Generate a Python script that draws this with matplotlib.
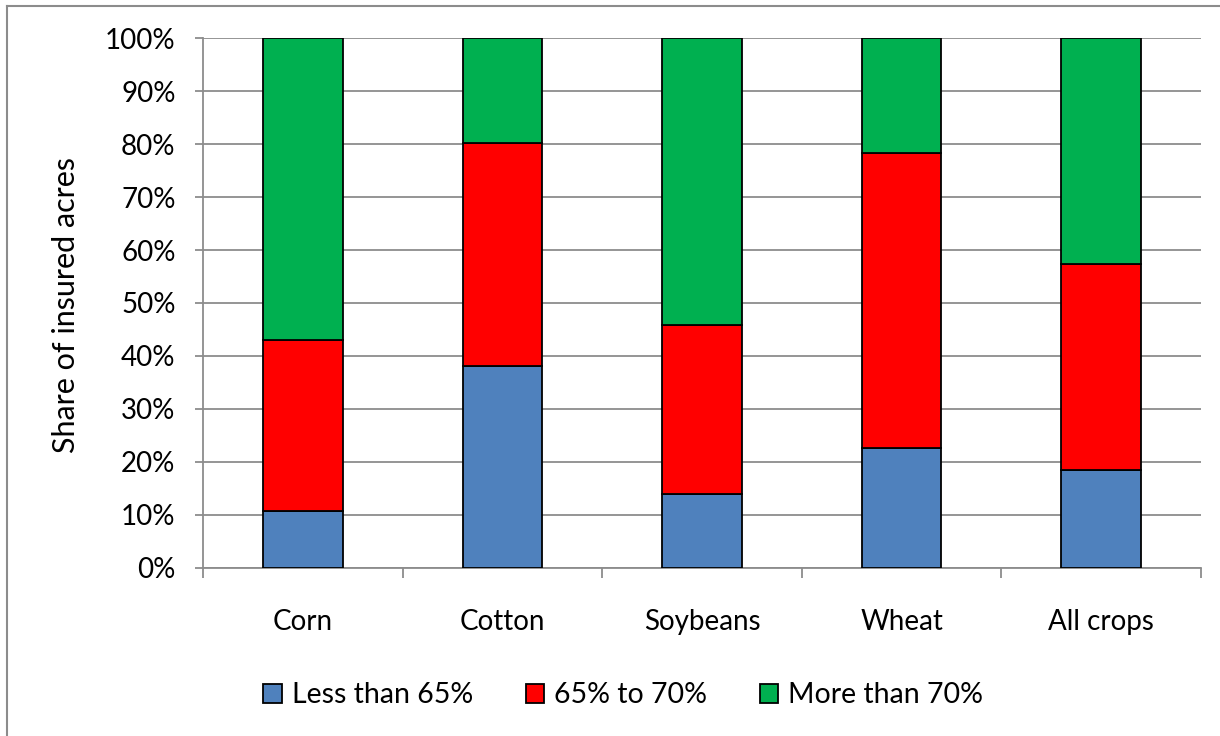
import matplotlib.pyplot as plt
from matplotlib.lines import Line2D
from matplotlib.ticker import FixedLocator, PercentFormatter

crops = ['Corn', 'Cotton', 'Soybeans', 'Wheat', 'All crops']
less_65 = [10.7, 38.1, 13.9, 22.7, 18.5]
from_65_to_70 = [32.4, 42.1, 32.0, 55.7, 38.9]
more_70 = [56.9, 19.8, 54.1, 21.6, 42.6]

series_names = ['Less than 65%', '65% to 70%', 'More than 70%']
colors = ['#4F81BD', '#FF0000', '#00B050']
grid_gray = '#8C8C8C'

plt.rcParams['font.family'] = ['Lato', 'DejaVu Sans']

fig = plt.figure(figsize=(12.2, 7.36), dpi=100)
ax = fig.add_axes([0.1667, 0.2287, 0.8175, 0.7193])

x = list(range(len(crops)))
bottom = [0.0] * len(crops)
for values, name, color in zip([less_65, from_65_to_70, more_70], series_names, colors):
    ax.bar(x, values, width=0.4, bottom=bottom, color=color, edgecolor='black',
           linewidth=1.3, label=name, zorder=3)
    bottom = [b + v for b, v in zip(bottom, values)]

ax.set_xlim(-0.5, len(crops) - 0.5)
ax.set_ylim(0, 100)
ax.set_yticks(range(0, 101, 10))
ax.yaxis.set_major_formatter(PercentFormatter(decimals=0))
ax.set_xticks(x)
ax.set_xticklabels(crops)
ax.xaxis.set_minor_locator(FixedLocator([i - 0.5 for i in range(len(crops) + 1)]))

ax.grid(axis='y', color=grid_gray, linewidth=1.3, zorder=0)
ax.tick_params(axis='x', which='major', length=0, pad=30, labelsize=20)
ax.tick_params(axis='x', which='minor', length=7, width=1.3, color=grid_gray)
ax.tick_params(axis='y', length=6, width=1.3, color=grid_gray, pad=14, labelsize=20)

for side in ['top', 'right']:
    ax.spines[side].set_visible(False)
for side in ['left', 'bottom']:
    ax.spines[side].set_color(grid_gray)
    ax.spines[side].set_linewidth(1.3)

fig.text(66 / 1220, 0.585, 'Share of insured acres', rotation=90,
         ha='center', va='center', fontsize=22)

fig.legend(loc='center', bbox_to_anchor=(0.511, 0.0557), ncol=3, frameon=False,
           fontsize=20.5, handlelength=0.65, handleheight=0.65, handletextpad=0.35,
           columnspacing=1.85)

# outer chart border (top and left edges)
fig.add_artist(Line2D([7 / 1220, 1], [1 - 6 / 736, 1 - 6 / 736], color=grid_gray,
                      linewidth=1.5, transform=fig.transFigure))
fig.add_artist(Line2D([7 / 1220, 7 / 1220], [0, 1 - 6 / 736], color=grid_gray,
                      linewidth=1.5, transform=fig.transFigure))

fig.savefig('out.png', dpi=100)
